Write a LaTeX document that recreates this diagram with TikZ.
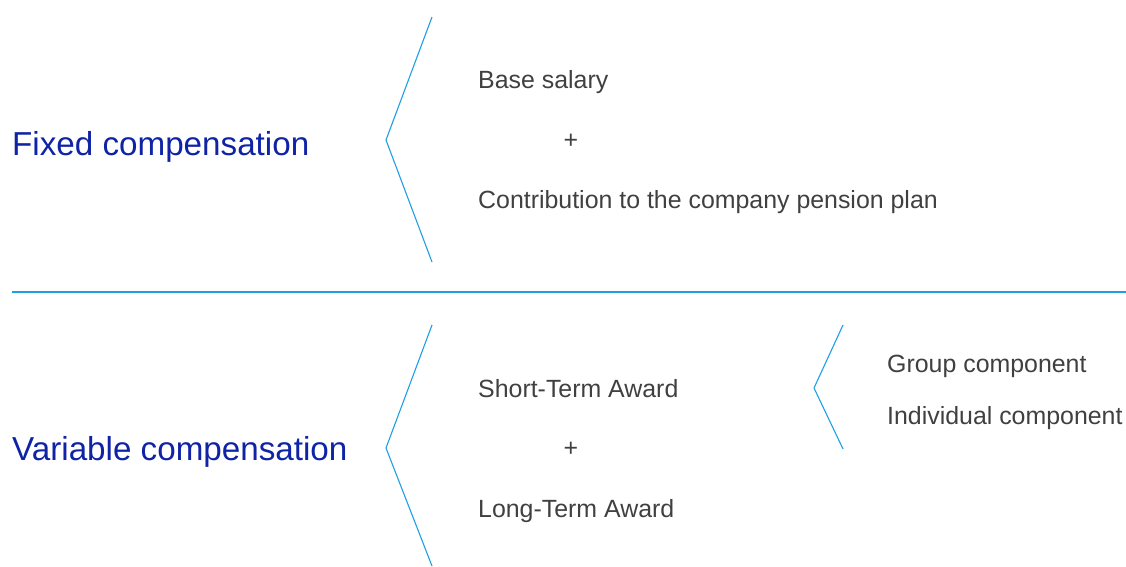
\documentclass[tikz,border=0pt]{standalone}
\usepackage{fontspec}
\setmainfont{Liberation Sans}
\definecolor{titleblue}{HTML}{0F23A5}
\definecolor{linkblue}{HTML}{1E9FE3}
\definecolor{bodygray}{HTML}{404040}
\begin{document}
\begin{tikzpicture}[x=1pt,y=-1pt,
  title/.style={anchor=base west,inner sep=0pt,text=titleblue,font=\fontsize{33.2}{40}\selectfont},
  item/.style={anchor=base west,inner sep=0pt,text=bodygray,font=\fontsize{24.9}{30}\selectfont},
  plus/.style={anchor=base,inner sep=0pt,text=bodygray,font=\fontsize{24.9}{30}\selectfont},
  bracket/.style={draw=linkblue,line width=1.1pt,line join=miter},
  divider/.style={draw=linkblue,line width=1.2pt}]
\useasboundingbox (0,0) rectangle (1126,567);
% top section
\node[title] (fixed) at (12,155) {Fixed compensation};
\coordinate (b1t) at (432,17);
\coordinate (b1v) at (386,140);
\coordinate (b1b) at (432,262);
\draw[bracket] (b1t) -- (b1v) -- (b1b);
\node[item] (base) at (478,89) {Base salary};
\node[plus] (plus1) at (571,148) {+};
\node[item] (contrib) at (478,208) {Contribution to the company pension plan};
% divider
\coordinate (dl) at (12,292);
\coordinate (dr) at (1126,292);
\draw[divider] (dl) -- (dr);
% bottom section
\node[title] (variable) at (12,460) {Variable compensation};
\coordinate (b2t) at (432,325);
\coordinate (b2v) at (386,448);
\coordinate (b2b) at (432,566);
\draw[bracket] (b2t) -- (b2v) -- (b2b);
\node[item] (sta) at (478,397) {Short-Term Award};
\node[plus] (plus2) at (571,456) {+};
\node[item] (lta) at (478,517) {Long-Term Award};
\coordinate (b3t) at (843,325);
\coordinate (b3v) at (814,388);
\coordinate (b3b) at (843,449);
\draw[bracket] (b3t) -- (b3v) -- (b3b);
\node[item] (group) at (887,372) {Group component};
\node[item] (indiv) at (887,424) {Individual component};
\end{tikzpicture}
\end{document}
